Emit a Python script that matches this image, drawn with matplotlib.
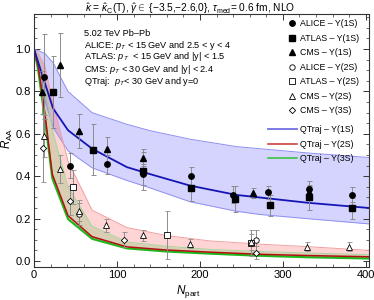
import matplotlib
matplotlib.use("Agg")
import matplotlib.pyplot as plt
from matplotlib.lines import Line2D
from matplotlib.ticker import MultipleLocator

plt.rcParams['font.family'] = ['Liberation Sans', 'DejaVu Sans']
plt.rcParams['mathtext.fontset'] = 'custom'
plt.rcParams['mathtext.rm'] = 'Liberation Sans'
plt.rcParams['mathtext.it'] = 'Liberation Sans:italic'

# data
alice1s_x = [12, 43, 88, 131, 189, 240, 282, 331, 383]
alice1s_y = [0.87, 0.45, 0.456, 0.41, 0.40, 0.313, 0.324, 0.34, 0.313]
alice1s_e = [0.2, 0.06, 0.045, 0.05, 0.045, 0.04, 0.03, 0.04, 0.035]

atlas1s_x = [22.5, 70.7, 131, 189, 242, 284, 331, 383]
atlas1s_y = [0.796, 0.525, 0.425, 0.345, 0.293, 0.264, 0.30, 0.248]
atlas1s_e = [0.17, 0.12, 0.09, 0.06, 0.06, 0.05, 0.06, 0.05]

cms1s_x = [9.2, 31.3, 54.6, 87.6, 131, 263.5, 331]
cms1s_y = [0.796, 0.926, 0.614, 0.527, 0.487, 0.321, 0.325]
cms1s_e = [0.1, 0.15, 0.08, 0.06, 0.04, 0.025, 0.03]

alice2s_x = [54.6, 267.5]
alice2s_y = [0.222, 0.098]
alice2s_e = [0.05, 0.05]

atlas2s_x = [47.4, 160.6, 262]
atlas2s_y = [0.348, 0.123, 0.085]
atlas2s_e = [0.08, 0.114, 0.06]

cms2s_x = [12, 31.3, 54.6, 86.7, 131, 188, 261, 328.5, 380]
cms2s_y = [0.59, 0.435, 0.237, 0.169, 0.122, 0.082, 0.09, 0.068, 0.068]
cms2s_e = [0.1, 0.065, 0.05, 0.03, 0.025, 0.02, 0.04, 0.02, 0.02]

cms3s_x = [11.3, 43.4, 108.8, 267.5]
cms3s_y = [0.533, 0.285, 0.1, 0.04]
cms3s_e = [0.16, 0.07, 0.035, 0.03]

# QTraj curves
npart_1s = [0, 13, 23, 41, 70, 112, 140, 188, 244, 272, 330, 405]
raa_1s = [1.0, 0.84, 0.72, 0.617, 0.53, 0.443, 0.41, 0.356, 0.312, 0.30, 0.275, 0.25]
raa_1s_hi = [1.0, 0.98, 0.935, 0.80, 0.70, 0.645, 0.615, 0.575, 0.54, 0.53, 0.51, 0.488]
raa_1s_lo = [1.0, 0.76, 0.63, 0.52, 0.44, 0.38, 0.345, 0.28, 0.235, 0.22, 0.2, 0.175]

npart_hs = [0, 5, 13, 22, 41, 70, 112, 160, 212, 272, 330, 405]
raa_2s = [1.0, 0.92, 0.70, 0.41, 0.214, 0.115, 0.067, 0.052, 0.042, 0.032, 0.026, 0.02]
raa_2s_hi = [1.0, 0.98, 0.92, 0.76, 0.47, 0.24, 0.158, 0.12, 0.095, 0.08, 0.068, 0.05]
raa_2s_lo = [1.0, 0.9, 0.68, 0.40, 0.205, 0.108, 0.062, 0.048, 0.037, 0.028, 0.022, 0.016]
raa_3s = [1.0, 0.9, 0.67, 0.39, 0.198, 0.105, 0.06, 0.045, 0.035, 0.025, 0.018, 0.012]
raa_3s_hi = [1.0, 0.96, 0.85, 0.62, 0.35, 0.165, 0.09, 0.07, 0.055, 0.045, 0.038, 0.03]
raa_3s_lo = [1.0, 0.89, 0.655, 0.38, 0.19, 0.1, 0.056, 0.042, 0.032, 0.022, 0.015, 0.009]

fig = plt.figure(figsize=(3.74, 3.0), dpi=100)
ax = fig.add_axes([0.091, 0.11, 0.896, 0.843])

## bands and lines
ax.fill_between(npart_1s, raa_1s_lo, raa_1s_hi, color='#0000ff', alpha=0.17, lw=0)
ax.plot(npart_1s, raa_1s_hi, color='#8f8ff0', lw=0.7)
ax.plot(npart_1s, raa_1s_lo, color='#8f8ff0', lw=0.7)
ax.fill_between(npart_hs, raa_2s_lo, raa_2s_hi, color='#ff0000', alpha=0.17, lw=0)
ax.plot(npart_hs, raa_2s_hi, color='#f0a0a0', lw=0.7)
ax.fill_between(npart_hs, raa_3s_lo, raa_3s_hi, color='#00aa00', alpha=0.15, lw=0)
ax.plot(npart_hs, raa_3s_hi, color='#a8d8a0', lw=0.7)

ax.plot(npart_hs, raa_3s, color='#1cb81c', lw=1.5)
ax.plot(npart_hs, raa_2s, color='#b01010', lw=1.1)
ax.plot(npart_1s, raa_1s, color='#1515b5', lw=1.3)

## data points
ekw = dict(ls='none', ecolor='#8c8c8c', elinewidth=0.7, capsize=1.8, capthick=0.7, ms=3.9)
ax.errorbar(alice1s_x, alice1s_y, yerr=alice1s_e, fmt='o', mfc='k', mec='k', **ekw)
ax.errorbar(atlas1s_x, atlas1s_y, yerr=atlas1s_e, fmt='s', mfc='k', mec='k', **ekw)
ax.errorbar(cms1s_x, cms1s_y, yerr=cms1s_e, fmt='^', mfc='k', mec='k', **ekw)
ax.errorbar(alice2s_x, alice2s_y, yerr=alice2s_e, fmt='o', mfc='white', mec='k', mew=0.6, **ekw)
ax.errorbar(atlas2s_x, atlas2s_y, yerr=atlas2s_e, fmt='s', mfc='white', mec='k', mew=0.6, **ekw)
ax.errorbar(cms2s_x, cms2s_y, yerr=cms2s_e, fmt='^', mfc='white', mec='k', mew=0.6, **ekw)
ax.errorbar(cms3s_x, cms3s_y, yerr=cms3s_e, fmt='D', mfc='white', mec='k', mew=0.6,
            **{**ekw, 'ms': 3.2})

## axes
ax.set_xlim(0, 404)
ax.set_ylim(-0.028, 1.165)
ax.xaxis.set_major_locator(MultipleLocator(100))
ax.xaxis.set_minor_locator(MultipleLocator(20))
ax.yaxis.set_major_locator(MultipleLocator(0.2))
ax.yaxis.set_minor_locator(MultipleLocator(0.05))
ax.yaxis.set_major_formatter(plt.FuncFormatter(lambda v, p: f"{v:.1f}"))
ax.tick_params(which='both', direction='in', top=True, right=True, labelsize=8, color='#333333')
ax.tick_params(which='major', length=4, width=0.7, pad=2.5)
ax.tick_params(which='minor', length=2, width=0.5)
for s in ax.spines.values():
    s.set_linewidth(0.8)
    s.set_color('#333333')
ax.set_xlabel(r'$N_{\rm part}$', fontsize=8.5)
ax.set_ylabel(r'$R_{\rm AA}$', fontsize=8.5)
ax.xaxis.set_label_coords(0.46, -0.062)
ax.yaxis.set_label_coords(-0.058, 0.51)

fig.text(0.508, 0.972, r'$\hat{\kappa}$ = $\hat{\kappa}_{\rm C}$(T), $\hat{\gamma} \in$ {$-$3.5,$-$2.6,0}, '
         r'$\tau_{\rm med}$= 0.6 fm, NLO', ha='center', va='center', fontsize=7.3)

## info text
info = ['5.02 TeV Pb\u2013Pb',
        r'ALICE: $p_T$ < 15 GeV and 2.5 < y < 4',
        r'ATLAS: $p_T$  < 15 GeV and |y| < 1.5',
        r'CMS: $p_T$ < 30 GeV and |y| < 2.4',
        r'QTraj:  $p_T$< 30 GeV and y=0']
for i, t in enumerate(info):
    fig.text(84 / 374, 1 - (33 + 12 * i) / 300, t, fontsize=6.6, va='center', ha='left')

## legends
mk_handles = [
    Line2D([], [], ls='none', marker='o', mfc='k', mec='k', ms=3.9),
    Line2D([], [], ls='none', marker='s', mfc='k', mec='k', ms=3.9),
    Line2D([], [], ls='none', marker='^', mfc='k', mec='k', ms=3.9),
    Line2D([], [], ls='none', marker='o', mfc='white', mec='k', mew=0.6, ms=3.9),
    Line2D([], [], ls='none', marker='s', mfc='white', mec='k', mew=0.6, ms=3.9),
    Line2D([], [], ls='none', marker='^', mfc='white', mec='k', mew=0.6, ms=3.9),
    Line2D([], [], ls='none', marker='D', mfc='white', mec='k', mew=0.6, ms=3.2),
]
mk_labels = ['ALICE \u2013 \u03a5(1S)', 'ATLAS \u2013 \u03a5(1S)', 'CMS \u2013 \u03a5(1S)',
             'ALICE \u2013 \u03a5(2S)', 'ATLAS \u2013 \u03a5(2S)', 'CMS \u2013 \u03a5(2S)',
             'CMS \u2013 \u03a5(3S)']
leg1 = fig.legend(mk_handles, mk_labels, loc='upper left',
                  bbox_to_anchor=(287.6 / 374, 1 - 19.5 / 300), frameon=False,
                  fontsize=6.3, handlelength=1.0, handletextpad=0.4, borderpad=0,
                  borderaxespad=0, labelspacing=0.62, numpoints=1)
ln_handles = [Line2D([], [], color='#6f6fe0', lw=1.3),
              Line2D([], [], color='#c83030', lw=1.1),
              Line2D([], [], color='#30c030', lw=1.1)]
ln_labels = ['QTraj \u2013 \u03a5(1S)', 'QTraj \u2013 \u03a5(2S)', 'QTraj \u2013 \u03a5(3S)']
leg2 = fig.legend(ln_handles, ln_labels, loc='upper left',
                  bbox_to_anchor=(268 / 374, 1 - 125.2 / 300), frameon=False,
                  fontsize=6.3, handlelength=3.3, handletextpad=0.35, borderpad=0,
                  borderaxespad=0, labelspacing=0.62)

fig.savefig('out.png', dpi=100)
